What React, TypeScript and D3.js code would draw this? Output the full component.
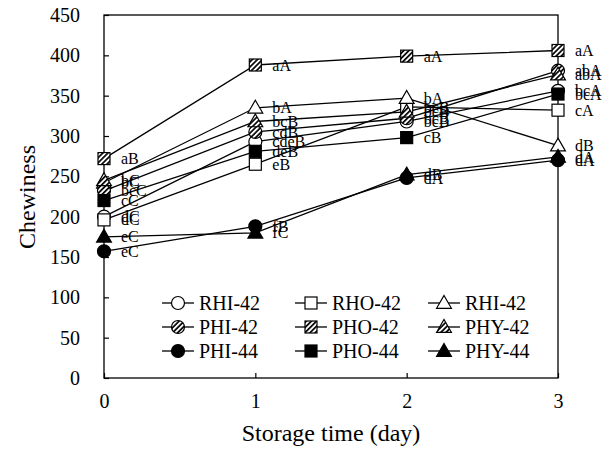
import { useRef, useEffect } from "react";
import * as d3 from "d3";

const days = [0, 1, 2, 3];
const yTicks = [0, 50, 100, 150, 200, 250, 300, 350, 400, 450];

const seriesNames = ["RHI-42", "RHO-42", "RHI-42", "PHI-42", "PHO-42", "PHY-42", "PHI-44", "PHO-44", "PHY-44"];
const seriesShapes = ["circle", "square", "triangle", "circle", "square", "triangle", "circle", "square", "triangle"];
const seriesFills = ["open", "open", "open", "hatch", "hatch", "hatch", "solid", "solid", "solid"];

const rhi42 = [200, 293, 318, 356];
const rho42 = [196, 265, 336, 332];
const rhi42b = [242, 335, 347, 288];
const phi42 = [232, 305, 322, 381];
const pho42 = [272, 388, 399, 406];
const phy42 = [245, 318, 330, 376];
const phi44 = [157, 188, 248, 270];
const pho44 = [220, 281, 298, 352];
const phy44 = [175, 180, 252, 274];

const rhi42Letters = ["dC", "cdeB", "bcB", "bcA"];
const rho42Letters = ["dC", "eB", "bcB", "cA"];
const rhi42bLetters = ["bC", "bA", "bA", "dB"];
const phi42Letters = ["bcC", "cdB", "bcB", "abA"];
const pho42Letters = ["aB", "aA", "aA", "aA"];
const phy42Letters = ["bC", "bcB", "bcB", "abA"];
const phi44Letters = ["eC", "fB", "dA", "dA"];
const pho44Letters = ["cC", "deB", "cB", "bcA"];
const phy44Letters = ["eC", "fC", "dB", "dA"];

const allValues = [rhi42, rho42, rhi42b, phi42, pho42, phy42, phi44, pho44, phy44];
const allLetters = [rhi42Letters, rho42Letters, rhi42bLetters, phi42Letters, pho42Letters, phy42Letters, phi44Letters, pho44Letters, phy44Letters];

const FONT = "'Liberation Serif', 'Times New Roman', serif";

function App() {
  const svgRef = useRef<SVGSVGElement>(null);

  useEffect(() => {
    const w = 611;
    const h = 451;
    const svg = d3.select(svgRef.current).attr("width", w).attr("height", h);
    svg.selectAll("*").remove();

    const left = 104, right = 558, top = 15, bottom = 378;
    const x = d3.scaleLinear().domain([0, 3]).range([left, right]);
    const y = d3.scaleLinear().domain([0, 450]).range([bottom, top]);

    // hatch pattern
    const defs = svg.append("defs");
    const pat = defs
      .append("pattern")
      .attr("id", "hatch")
      .attr("patternUnits", "userSpaceOnUse")
      .attr("width", 3.6)
      .attr("height", 3.6)
      .attr("patternTransform", "rotate(45)");
    pat.append("rect").attr("width", 3.6).attr("height", 3.6).attr("fill", "#fff");
    pat.append("line").attr("x1", 0.9).attr("y1", 0).attr("x2", 0.9).attr("y2", 3.6)
      .attr("stroke", "#000").attr("stroke-width", 1.7);

    // frame
    svg.append("rect")
      .attr("x", left).attr("y", top)
      .attr("width", right - left).attr("height", bottom - top)
      .attr("fill", "none").attr("stroke", "#000").attr("stroke-width", 1.3);

    // y ticks (inward)
    const yAxis = d3.axisLeft(y).tickValues(yTicks).tickSizeInner(-5).tickSizeOuter(0).tickPadding(24);
    const gy = svg.append("g").attr("transform", `translate(${left},0)`).call(yAxis);
    gy.select(".domain").remove();
    gy.selectAll("line").attr("stroke-width", 1.2);
    gy.selectAll("text").attr("font-family", FONT).attr("font-size", 20).attr("fill", "#000");

    const xAxis = d3.axisBottom(x).tickValues(days).tickSizeInner(-5).tickSizeOuter(0).tickPadding(16).tickFormat(d3.format("d"));
    const gx = svg.append("g").attr("transform", `translate(0,${bottom})`).call(xAxis);
    gx.select(".domain").remove();
    gx.selectAll("line").attr("stroke-width", 1.2);
    gx.selectAll("text").attr("font-family", FONT).attr("font-size", 20).attr("fill", "#000");

    // axis titles
    svg.append("text")
      .attr("x", (left + right) / 2).attr("y", 441)
      .attr("text-anchor", "middle")
      .attr("font-family", FONT).attr("font-size", 24)
      .text("Storage time (day)");
    svg.append("text")
      .attr("transform", `translate(35,197) rotate(-90)`)
      .attr("text-anchor", "middle")
      .attr("font-family", FONT).attr("font-size", 24)
      .text("Chewiness");

    const fillOf = (f: string) => (f === "open" ? "#fff" : f === "hatch" ? "url(#hatch)" : "#000");
    const drawMarker = (g: any, shape: string, fill: string, cx: number, cy: number) => {
      if (shape === "circle") {
        g.append("circle").attr("cx", cx).attr("cy", cy).attr("r", 6.5)
          .attr("fill", fillOf(fill)).attr("stroke", "#000").attr("stroke-width", 1.2);
      } else if (shape === "square") {
        g.append("rect").attr("x", cx - 6).attr("y", cy - 6).attr("width", 12).attr("height", 12)
          .attr("fill", fillOf(fill)).attr("stroke", "#000").attr("stroke-width", 1.2);
      } else {
        const sym = d3.symbol().type(d3.symbolTriangle).size(95);
        g.append("path").attr("d", sym()).attr("transform", `translate(${cx},${cy + 1})`)
          .attr("fill", fillOf(fill)).attr("stroke", "#000").attr("stroke-width", 1.2);
      }
    };

    const line = d3.line<number>().x((d, i) => x(days[i])).y((d) => y(d));

    // lines
    allValues.forEach((vals) => {
      svg.append("path").attr("d", line(vals)).attr("fill", "none")
        .attr("stroke", "#000").attr("stroke-width", 1.3);
    });

    // markers
    allValues.forEach((vals, s) => {
      const g = svg.append("g");
      vals.forEach((v, i) => drawMarker(g, seriesShapes[s], seriesFills[s], x(days[i]), y(v)));
    });

    // letters
    allValues.forEach((vals, s) => {
      vals.forEach((v, i) => {
        svg.append("text")
          .attr("x", x(days[i]) + 17).attr("y", y(v))
          .attr("dy", "0.35em")
          .attr("font-family", FONT).attr("font-size", 16)
          .text(allLetters[s][i]);
      });
    });

    // legend
    const colX = [162, 295, 428];
    const rowY = [303, 327, 351];
    seriesNames.forEach((name, s) => {
      const col = s % 3;
      const row = Math.floor(s / 3);
      const lx = colX[col];
      const ly = rowY[row];
      const g = svg.append("g");
      g.append("line").attr("x1", lx).attr("x2", lx + 32).attr("y1", ly).attr("y2", ly)
        .attr("stroke", "#000").attr("stroke-width", 1.3);
      drawMarker(g, seriesShapes[s], seriesFills[s], lx + 16, ly);
      g.append("text").attr("x", lx + 37).attr("y", ly).attr("dy", "0.35em")
        .attr("font-family", FONT).attr("font-size", 20).text(name);
    });
  }, []);

  return <svg ref={svgRef} style={{ position: "absolute", left: 0, top: 0, background: "#fff" }}></svg>;
}

export default App;
